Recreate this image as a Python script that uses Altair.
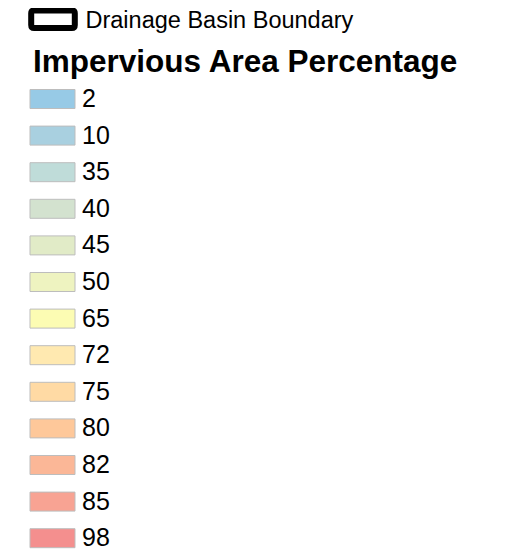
import altair as alt
import pandas as pd

labels = ["2", "10", "35", "40", "45", "50", "65", "72", "75", "80", "82", "85", "98"]
colors = ["#97CAE6", "#A9D0E0", "#BFDCD9", "#D3E2CF", "#E1EBC7", "#EEF3C0",
          "#FCFCB3", "#FFE9B0", "#FFDAA4", "#FEC89A", "#FBB797", "#F8A393", "#F48F8E"]
boundary_label = ["Drainage Basin Boundary"]
legend_title = "Impervious Area Percentage"

df = pd.DataFrame({"pct": labels})
bdf = pd.DataFrame({"b": boundary_label})

FONT = "Liberation Sans"
# symbol size 400 -> 10 px per path unit
swatch_path = "M-1.55,-0.95L2.95,-0.95L2.95,0.95L-1.55,0.95Z"
box_path = ("M-1.88,-1.05L1.88,-1.05Q2.18,-1.05,2.18,-0.75L2.18,0.4Q2.18,0.7,1.88,0.7"
            "L-1.88,0.7Q-2.18,0.7,-2.18,0.4L-2.18,-0.75Q-2.18,-1.05,-1.88,-1.05Z")

fills = alt.Chart(df).mark_rect(opacity=0).encode(
    fill=alt.Fill(
        "pct:N",
        sort=labels,
        scale=alt.Scale(domain=labels, range=colors),
        legend=alt.Legend(
            title=legend_title,
            orient="none",
            legendX=25,
            legendY=38.7,
            titleFont=FONT,
            titleFontSize=31.5,
            titleFontWeight="bold",
            titleColor="black",
            titlePadding=8.3,
            titleLimit=600,
            labelFont=FONT,
            labelFontSize=25,
            labelColor="black",
            labelOffset=24,
            symbolType=swatch_path,
            symbolSize=400,
            symbolStrokeColor="#BDBDBD",
            symbolStrokeWidth=1,
            symbolOpacity=1,
            rowPadding=10.6,
            padding=0,
        ),
    )
)

boundary = alt.Chart(bdf).mark_rect(opacity=0, fill="transparent").encode(
    stroke=alt.Stroke(
        "b:N",
        scale=alt.Scale(domain=boundary_label, range=["black"]),
        legend=alt.Legend(
            title=None,
            orient="none",
            legendX=32,
            legendY=0,
            labelFont=FONT,
            labelFontSize=23.5,
            labelColor="black",
            labelOffset=19.5,
            labelLimit=600,
            symbolType=box_path,
            symbolSize=400,
            symbolStrokeWidth=6,
            symbolFillColor="white",
            symbolOpacity=1,
            padding=0,
        ),
    )
)

chart = alt.layer(fills, boundary).resolve_legend(fill="independent", stroke="independent").properties(
    width=1, height=1
).configure_view(stroke=None).configure(padding=0)

chart.save("out.html", embed_options={"renderer": "svg", "actions": False})
